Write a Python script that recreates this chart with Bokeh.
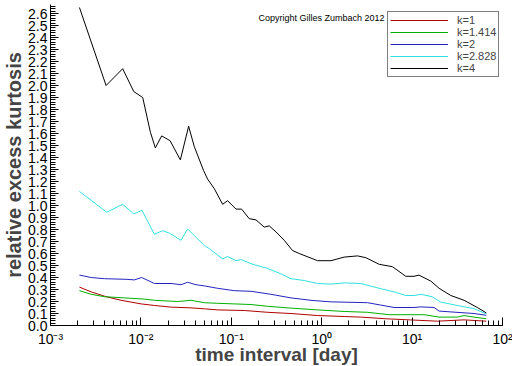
from bokeh.plotting import figure
from bokeh.models import (Range1d, LogTicker, SingleIntervalTicker, PrintfTickFormatter,
                          CustomJSTickFormatter, Legend, LegendItem, Label)
from bokeh.embed import file_html
from bokeh.resources import INLINE

# ---- data (time interval in days, relative excess kurtosis) ----
t_k1 = [0.00209, 0.00282, 0.00412, 0.00604, 0.01004, 0.01409, 0.02157, 0.03587, 0.05032,
        0.0706, 0.1392, 0.2518, 0.457, 0.899, 1.773, 2.71, 5.12, 19.0, 37.6, 66.2]
y_k1 = [0.32, 0.28, 0.24, 0.21, 0.18, 0.167, 0.153, 0.147, 0.139,
        0.13, 0.125, 0.11, 0.10, 0.083, 0.075, 0.07, 0.056, 0.036, 0.047, 0.036]

t_k1414 = [0.00209, 0.00282, 0.00395, 0.00657, 0.01093, 0.01409, 0.02551, 0.03587, 0.05032,
           0.0706, 0.165, 0.2518, 0.457, 0.899, 1.773, 3.21, 5.57, 13.6, 19.9, 31.6,
           37.6, 48.4, 66.2]
y_k1414 = [0.29, 0.26, 0.24, 0.23, 0.22, 0.21, 0.20, 0.21, 0.19,
           0.185, 0.175, 0.16, 0.145, 0.13, 0.117, 0.11, 0.09, 0.09, 0.07, 0.07,
           0.083, 0.07, 0.056]

t_k2 = [0.00209, 0.00282, 0.00395, 0.00686, 0.00847, 0.0102, 0.01409, 0.02157, 0.0278,
        0.03289, 0.04074, 0.05032, 0.0706, 0.1079, 0.165, 0.2747, 0.457, 0.760, 1.264,
        3.21, 4.51, 6.32, 10.5, 12.5, 17.5, 19.9, 48.4, 66.2]
y_k2 = [0.42, 0.40, 0.39, 0.385, 0.38, 0.40, 0.35, 0.35, 0.34,
        0.36, 0.34, 0.33, 0.31, 0.29, 0.285, 0.26, 0.23, 0.21, 0.197,
        0.19, 0.17, 0.15, 0.15, 0.155, 0.15, 0.12, 0.10, 0.085]

t_k2828 = [0.00209, 0.00419, 0.00629, 0.00833, 0.0103, 0.01409, 0.0174, 0.02065, 0.0278,
           0.03289, 0.04074, 0.05032, 0.0571, 0.0802, 0.0910, 0.1127, 0.128, 0.172,
           0.2415, 0.2858, 0.354, 0.457, 0.641, 0.899, 1.264, 1.773, 2.71, 4.32, 6.32,
           8.51, 10.5, 12.5, 16.7, 20.7, 31.6, 48.4, 66.2]
y_k2828 = [1.117, 0.944, 1.01, 0.93, 0.96, 0.76, 0.79, 0.77, 0.71,
           0.805, 0.735, 0.667, 0.64, 0.555, 0.575, 0.54, 0.55, 0.51,
           0.48, 0.46, 0.43, 0.39, 0.375, 0.35, 0.345, 0.355, 0.35, 0.31, 0.28,
           0.25, 0.25, 0.26, 0.24, 0.195, 0.167, 0.14, 0.097]

t_k4 = [0.00209, 0.00412, 0.00629, 0.00833, 0.01047, 0.01274, 0.01445, 0.01698, 0.02102,
        0.02732, 0.03373, 0.03899, 0.04943, 0.0547, 0.0649, 0.0802, 0.0910, 0.1127,
        0.130, 0.158, 0.1875, 0.2315, 0.263, 0.312, 0.3852, 0.475, 0.564, 0.899, 1.266,
        1.773, 2.487, 3.08, 4.32, 6.06, 8.51, 10.5, 11.9, 16.1, 19.9, 26.8, 37.6, 52.7, 66.2]
y_k4 = [2.65, 2.00, 2.14, 1.95, 1.90, 1.61, 1.48, 1.58, 1.54,
        1.38, 1.66, 1.49, 1.29, 1.22, 1.14, 1.01, 1.04, 0.97,
        0.97, 0.89, 0.88, 0.82, 0.83, 0.78, 0.71, 0.625, 0.60, 0.54, 0.54,
        0.57, 0.58, 0.565, 0.51, 0.49, 0.41, 0.41, 0.42, 0.37, 0.31, 0.25, 0.21, 0.15, 0.105]

series_labels = ["k=1", "k=1.414", "k=2", "k=2.828", "k=4"]
series_colors = ["#b00000", "#00b000", "#2424c0", "#30e0e0", "#000000"]
series_t = [t_k1, t_k1414, t_k2, t_k2828, t_k4]
series_y = [y_k1, y_k1414, y_k2, y_k2828, y_k4]

x_label = "time interval [day]"
y_label = "relative excess kurtosis"
copyright_text = "Copyright Gilles Zumbach 2012"

# ---- figure (512 x 366 in total) ----
p = figure(frame_width=452, frame_height=321, x_axis_type="log",
           x_range=Range1d(1e-3, 1e2), y_range=Range1d(0, 2.675),
           output_backend="svg", toolbar_location=None,
           min_border_left=46, min_border_right=14, min_border_top=4, min_border_bottom=41)
p.title.visible = False
p.outline_line_color = None
p.xgrid.visible = False
p.ygrid.visible = False
p.background_fill_color = "white"
p.border_fill_color = "white"

items = []
for lab, col, tt, yy in zip(series_labels, series_colors, series_t, series_y):
    r = p.line(tt, yy, line_color=col, line_width=1)
    items.append(LegendItem(label=lab, renderers=[r]))

tick_font = "Liberation Sans"
lab_font = "Liberation Sans"

# x axis
xa = p.xaxis[0]
xa.ticker = LogTicker(num_minor_ticks=10, desired_num_ticks=6)
xa.formatter = CustomJSTickFormatter(code="""
const sup = {'-':'\u207b','0':'\u2070','1':'\u00b9','2':'\u00b2','3':'\u00b3','4':'\u2074',
             '5':'\u2075','6':'\u2076','7':'\u2077','8':'\u2078','9':'\u2079'};
const e = Math.round(Math.log10(tick));
return '10' + String(e).split('').map(c => sup[c]).join('');
""")
xa.major_tick_in = 8
xa.major_tick_out = 0
xa.minor_tick_in = 5
xa.minor_tick_out = 0
xa.major_label_standoff = 5
xa.major_label_text_font = tick_font
xa.major_label_text_font_size = "14px"
xa.major_label_text_color = "black"
xa.axis_label = x_label
xa.axis_label_text_font = lab_font
xa.axis_label_text_font_style = "bold"
xa.axis_label_text_font_size = "19px"
xa.axis_label_standoff = -6
xa.axis_line_color = "black"

# y axis
ya = p.yaxis[0]
ya.ticker = SingleIntervalTicker(interval=0.1, num_minor_ticks=5)
ya.formatter = PrintfTickFormatter(format="%.1f")
ya.major_tick_in = 8
ya.major_tick_out = 0
ya.minor_tick_in = 5
ya.minor_tick_out = 0
ya.major_label_standoff = 3
ya.major_label_text_font = tick_font
ya.major_label_text_font_size = "14px"
ya.major_label_text_color = "black"
ya.axis_label = y_label
ya.axis_label_text_font = lab_font
ya.axis_label_text_font_style = "bold"
ya.axis_label_text_font_size = "20px"
ya.axis_label_standoff = 0
ya.axis_line_color = "black"

legend = Legend(items=items, location=(337, 248))
legend.label_text_font = tick_font
legend.label_text_font_size = "11px"
legend.label_height = 12
legend.glyph_height = 12
legend.glyph_width = 58
legend.label_standoff = 9
legend.padding = 2
legend.spacing = 0
legend.margin = 0
legend.border_line_color = "black"
legend.border_line_width = 1
legend.background_fill_color = "white"
legend.background_fill_alpha = 1
p.add_layout(legend)

p.add_layout(Label(x=208, y=308, x_units="screen", y_units="screen", text=copyright_text,
                   text_font=tick_font, text_font_size="9px", text_baseline="middle",
                   text_color="black"))

open("out.html", "w").write(file_html(p, INLINE))
